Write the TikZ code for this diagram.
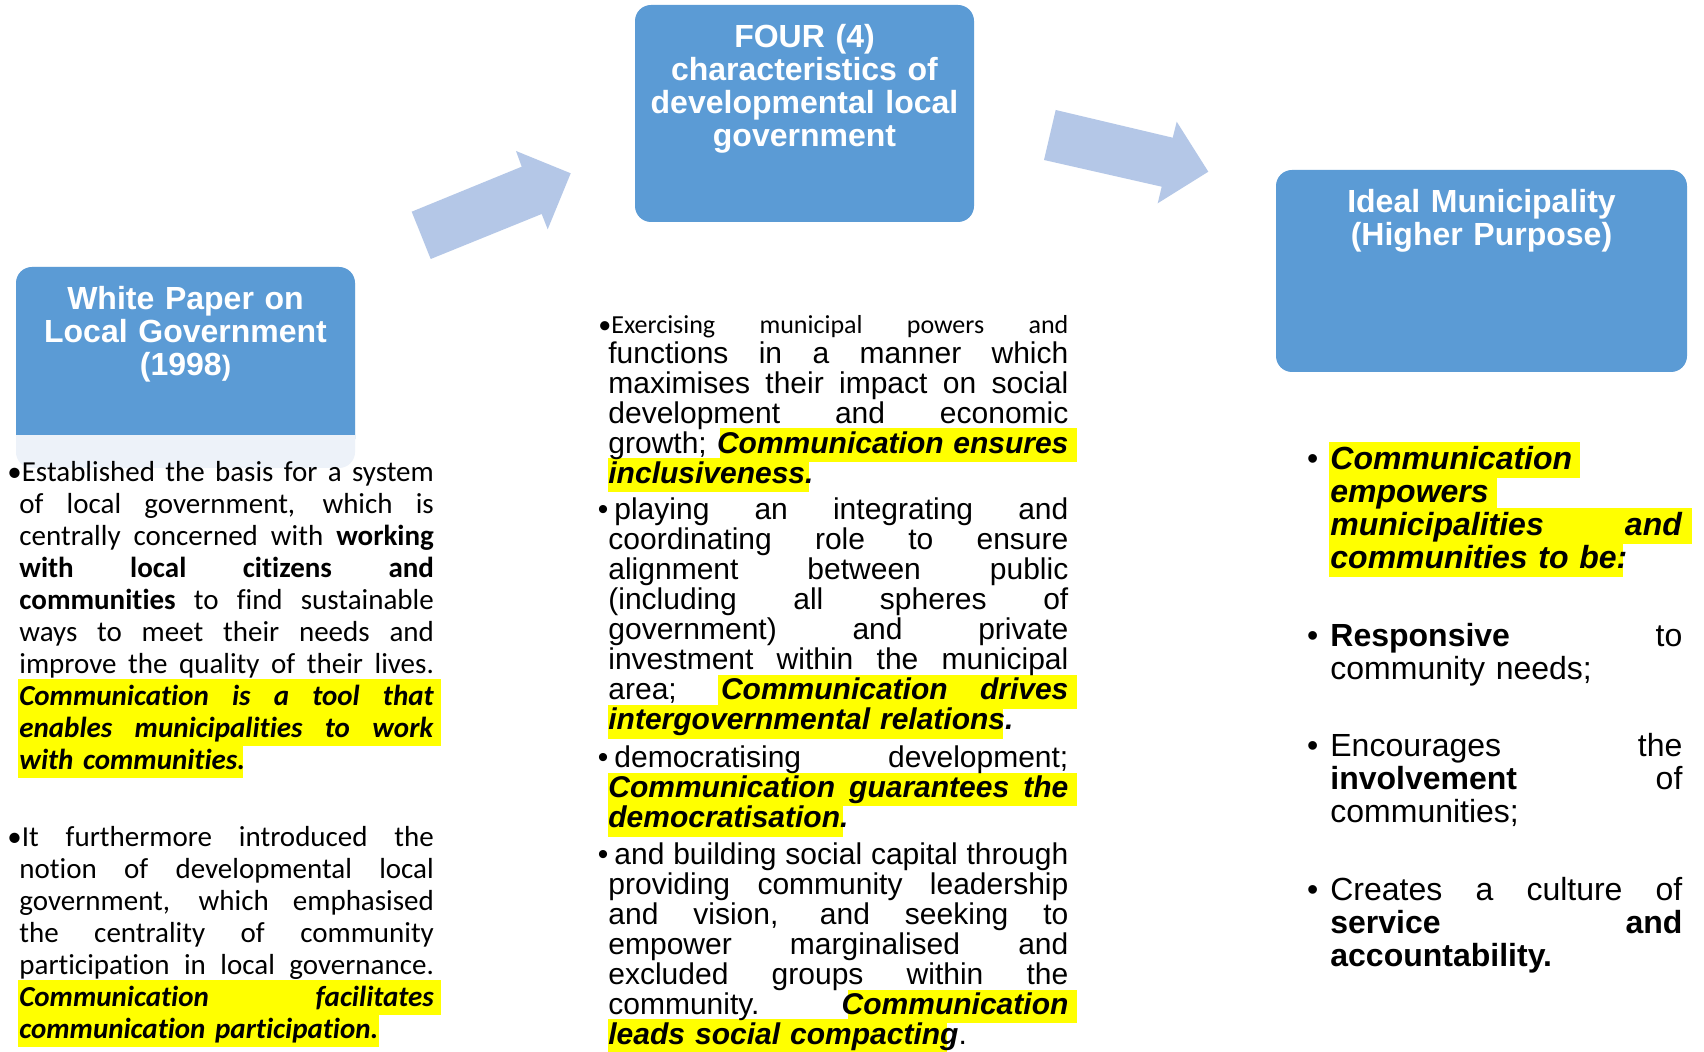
\documentclass[tikz,border=0pt]{standalone}
\usepackage{fontspec}
\setmainfont{Liberation Sans}
\newfontfamily\calfont[Ligatures=CommonOff]{Carlito}
\usetikzlibrary{calc}

\definecolor{boxblue}{HTML}{5B9BD5}
\definecolor{bandblue}{HTML}{EDF2F9}
\definecolor{arrowblue}{HTML}{B4C7E7}
\definecolor{hlyellow}{HTML}{FFFF00}

% one justified line (spaces share the slack evenly), one natural-width line, emphasis
\newcommand\jl[1]{\noindent\hbox to \hsize{%
  \spaceskip=\fontdimen2\font plus 1fil minus 0.3\fontdimen2\font\relax
  \xspaceskip=\spaceskip #1}\par}
\newcommand\nl[1]{\noindent #1\par}
\newcommand\hi[1]{\textbf{\textit{#1}}}

\tikzset{
  boxnode/.style={fill=boxblue, rounded corners=8pt, draw=none, inner sep=0pt},
  titletext/.style={text=white, font=\bfseries\fontsize{16}{16.5}\selectfont,
    align=center, text width=165pt, inner sep=0pt, anchor=base},
  bodytext/.style={inner sep=0pt, anchor=base west,
    execute at begin node={\lineskiplimit=-\maxdimen\lineskip=0pt}},
  leftpara/.style={bodytext, font=\calfont\fontsize{14.5}{16}\selectfont, text width=207.25pt},
  midpara/.style={bodytext, font=\fontsize{15}{15}\selectfont, text width=230pt},
  rightpara/.style={bodytext, font=\fontsize{16}{16.5}\selectfont, text width=176pt},
  blockarrow/.style={fill=arrowblue, draw=none},
  hl/.style={fill=hlyellow, draw=none}
}

\begin{document}
\begin{tikzpicture}[x=0.5pt, y=-0.5pt]
\useasboundingbox (0,0) rectangle (1704,1052);
\fill[white] (0,0) rectangle (1704,1052);

% ---- header boxes ----
\node[boxnode, fill=bandblue, minimum width=169.5pt, minimum height=100.5pt] (wp) at (185.5,367.5) {};
\fill[boxblue, rounded corners=8pt] (16,267) rectangle (355,455);
\fill[bandblue] (16,435) rectangle (355,455);
\node[boxnode, minimum width=169.5pt, minimum height=108.5pt] (four) at (804.5,113.5) {};
\node[boxnode, minimum width=205.5pt, minimum height=101pt] (ideal) at (1481.5,271) {};

\node[titletext] (wpt) at (185.5,310) {White Paper on\\Local Government\\(1998{\fontsize{14}{16.5}\selectfont)}};
\node[titletext] (fourt) at (804.5,47.5) {FOUR (4)\\characteristics of\\developmental local\\government};
\node[titletext, text width=200pt] (idealt) at (1481.5,213) {Ideal Municipality\\(Higher Purpose)};

% ---- block arrows between the boxes ----
\fill[blockarrow] (411.7,211.7) -- (521.7,166.7) -- (516,151) -- (570.7,173.3)
  -- (547.7,229.3) -- (541.7,214) -- (430.7,259) -- cycle;
\fill[blockarrow] (1055.7,110) -- (1172.7,137.7) -- (1176.7,121.7) -- (1208.3,171.7)
  -- (1157.7,203.3) -- (1161.7,186.7) -- (1044,160) -- cycle;

% ---- highlight bands (behind the text) ----
% left column
\fill[hl] (18,679) rectangle (441,714);
\fill[hl] (18,711) rectangle (441,746);
\fill[hl] (18,743) rectangle (243,778);
\fill[hl] (18,980) rectangle (441,1015);
\fill[hl] (18,1012) rectangle (379,1047);
% middle column
\fill[hl] (720,428) rectangle (1077,462);
\fill[hl] (608,458) rectangle (809,492);
\fill[hl] (718,675) rectangle (1077,709);
\fill[hl] (608,705) rectangle (1003,739);
\fill[hl] (608,773) rectangle (1077,806);
\fill[hl] (608,802) rectangle (843,837);
\fill[hl] (848,990) rectangle (1077,1023);
\fill[hl] (608,1019) rectangle (947,1053);
% right column
\fill[hl] (1329,442) rectangle (1580,478);
\fill[hl] (1329,475) rectangle (1497,508);
\fill[hl] (1329,508) rectangle (1692,544);
\fill[hl] (1329,541) rectangle (1623,577);

% ---- left column ----
\node[leftpara] (l1) at (19,482) {%
\jl{\hspace*{-6pt}•Established the basis for a system}
\jl{of local government, which is}
\jl{centrally concerned with \textbf{working}}
\jl{\textbf{with local citizens and}}
\jl{\textbf{communities} to find sustainable}
\jl{ways to meet their needs and}
\jl{improve the quality of their lives.}
\jl{\hi{Communication is a tool that}}
\jl{\hi{enables municipalities to work}}
\nl{\hi{with communities.}}};

\node[leftpara] (l2) at (19,847) {%
\jl{\hspace*{-6pt}•It furthermore introduced the}
\jl{notion of developmental local}
\jl{government, which emphasised}
\jl{the centrality of community}
\jl{participation in local governance.}
\jl{\hi{Communication facilitates}}
\nl{\hi{communication participation.}}};

% ---- middle column ----
\node[midpara] (m1) at (608,334) {%
\jl{{\calfont\fontsize{13}{15}\selectfont\hspace*{-5pt}•Exercising municipal powers and}}
\jl{functions in a manner which}
\jl{maximises their impact on social}
\jl{development and economic}
\jl{growth; \hi{Communication ensures}}
\nl{\hi{inclusiveness.}}};

\node[midpara] (m2) at (608,520) {%
\jl{\llap{•}\hspace*{3pt}playing an integrating and}
\jl{coordinating role to ensure}
\jl{alignment between public}
\jl{(including all spheres of}
\jl{government) and private}
\jl{investment within the municipal}
\jl{area; \hi{Communication drives}}
\nl{\hi{intergovernmental relations.}}};

\node[midpara] (m3) at (608,768) {%
\jl{\llap{•}\hspace*{3pt}democratising development;}
\jl{\hi{Communication guarantees the}}
\nl{\hi{democratisation.}}};

\node[midpara] (m4) at (608,865) {%
\jl{\llap{•}\hspace*{3pt}and building social capital through}
\jl{providing community leadership}
\jl{and vision, and seeking to}
\jl{empower marginalised and}
\jl{excluded groups within the}
\jl{community. \hi{Communication}}
\nl{\hi{leads social compacting}.}};

% ---- right column ----
\node[rightpara] (r1) at (1330,470) {%
\nl{\llap{•\hspace{6pt}}\hi{Communication}}
\nl{\hi{empowers}}
\jl{\hi{municipalities and}}
\nl{\hi{communities to be:}}};

\node[rightpara] (r2) at (1330,647) {%
\jl{\llap{•\hspace{6pt}}\textbf{Responsive} to}
\nl{community needs;}};

\node[rightpara] (r3) at (1330,757) {%
\jl{\llap{•\hspace{6pt}}Encourages the}
\jl{\textbf{involvement} of}
\nl{communities;}};

\node[rightpara] (r4) at (1330,901) {%
\jl{\llap{•\hspace{6pt}}Creates a culture of}
\jl{\textbf{service and}}
\nl{\textbf{accountability.}}};

\end{tikzpicture}
\end{document}
